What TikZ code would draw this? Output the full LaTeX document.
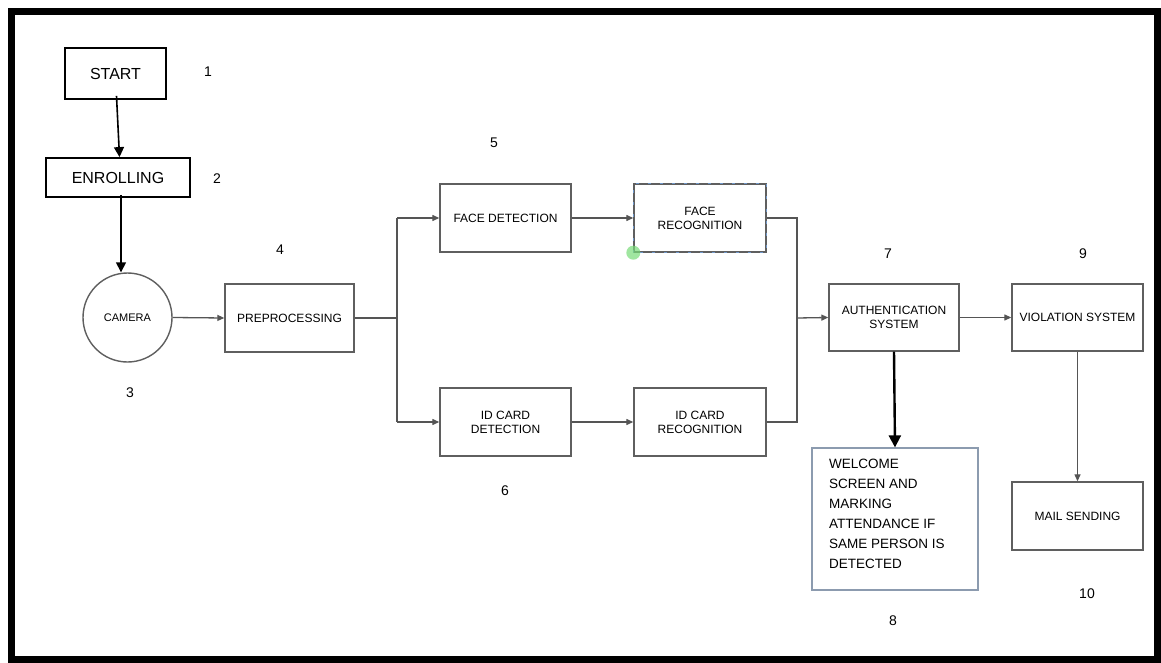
\documentclass[tikz,border=0pt]{standalone}
\usepackage{fontspec}
\setmainfont{Liberation Sans}
\usetikzlibrary{arrows.meta}
\definecolor{boxgray}{RGB}{95,95,95}
\definecolor{linegray}{RGB}{85,85,85}
\definecolor{selblue}{RGB}{110,150,200}
\definecolor{paleblue}{RGB}{140,155,175}
\definecolor{selgreen}{RGB}{120,220,120}
\tikzset{
  box/.style={draw=boxgray, line width=1.4pt, rectangle, inner sep=0pt, align=center,
    font=\fontsize{12}{14}\selectfont},
  darkbox/.style={draw=black, line width=1.8pt, rectangle, inner sep=0pt,
    font=\fontsize{16}{18}\selectfont},
  numlabel/.style={font=\fontsize{14}{16}\selectfont, inner sep=0pt},
  conn/.style={draw=linegray, line width=1.3pt, -{Triangle[length=7pt,width=6pt]}},
  plain/.style={draw=linegray, line width=1.3pt},
  blackarrow/.style={draw=black, line width=1.6pt, -{Triangle[length=10pt,width=10pt]}},
  thickarrow/.style={draw=black, line width=2.4pt, -{Triangle[length=12pt,width=12pt]}},
}
\begin{document}
\begin{tikzpicture}[x=1pt,y=-1pt]
\useasboundingbox (0,0) rectangle (1161,663);
\fill[white] (0,0) rectangle (1161,663);
\draw[black, line width=7pt] (11.5,11.5) rectangle (1157.5,659);

% nodes
\node[darkbox, minimum width=101pt, minimum height=51pt] (start) at (115.5,73.5) {START};
\node[darkbox, minimum width=144pt, minimum height=39pt] (enroll) at (118,177.5) {ENROLLING};
\node[circle, draw=boxgray, line width=1.4pt, minimum size=89pt, inner sep=0pt,
  font=\fontsize{11}{13}\selectfont] (camera) at (127.5,317.5) {CAMERA};
\node[box, minimum width=129pt, minimum height=68pt] (pre) at (289.5,318) {PREPROCESSING};
\node[box, minimum width=131pt, minimum height=68pt] (fdet) at (505.5,218) {FACE DETECTION};
\node[box, draw=boxgray, minimum width=132pt, minimum height=68pt] (frec) at (700,218) {FACE\\RECOGNITION};
\node[box, minimum width=131pt, minimum height=68pt] (idet) at (505.5,422) {ID CARD\\DETECTION};
\node[box, minimum width=132pt, minimum height=68pt] (irec) at (700,422) {ID CARD\\RECOGNITION};
\node[box, minimum width=130pt, minimum height=67pt] (auth) at (894,317.5) {AUTHENTICATION\\SYSTEM};
\node[box, minimum width=131pt, minimum height=67pt] (viol) at (1077.5,317.5) {VIOLATION SYSTEM};
\node[box, minimum width=131pt, minimum height=68pt] (mail) at (1077.5,516) {MAIL SENDING};
\node[draw=paleblue, line width=1.2pt, rectangle, minimum width=166pt, minimum height=142pt,
  inner sep=0pt] (welc) at (895,519) {};
\node[anchor=north west, align=left, inner sep=0pt,
  font=\fontsize{13.5}{20}\selectfont] (welctext) at (829,459)
  {WELCOME\\SCREEN AND\\MARKING\\ATTENDANCE IF\\SAME PERSON IS\\DETECTED};

% selection marks on FACE RECOGNITION
\draw[selblue, line width=0.8pt, dash pattern=on 3pt off 9pt] (frec.south west) rectangle (frec.north east);
\fill[selgreen, opacity=0.7] (frec.south west) circle (7pt);

% number labels
\node[numlabel] (n1) at (208,72) {1};
\node[numlabel] (n2) at (217,179) {2};
\node[numlabel] (n3) at (130,393) {3};
\node[numlabel] (n4) at (280,250) {4};
\node[numlabel] (n5) at (494,143) {5};
\node[numlabel] (n6) at (505,491) {6};
\node[numlabel] (n7) at (888,254) {7};
\node[numlabel] (n8) at (893,621) {8};
\node[numlabel] (n9) at (1083,254) {9};
\node[numlabel] (n10) at (1087,594) {10};

% junction coordinates
\coordinate (jl) at (397,318);
\coordinate (jlt) at (397,218);
\coordinate (jlb) at (397,422);
\coordinate (jr) at (797,318);
\coordinate (jrt) at (797,218);
\coordinate (jrb) at (797,422);

% connectors
\draw[blackarrow] ([xshift=1pt,yshift=4pt]start.south) -- ([xshift=4pt]start.south |- enroll.north);
\draw[blackarrow] ([xshift=3pt,yshift=3pt]enroll.south) -- ([xshift=3pt]enroll.south |- camera.north);
\draw[conn] (camera.east) -- (pre.west);
\draw[plain] (pre.east) -- (jl);
\draw[plain] (jlt) -- (jlb);
\draw[conn] (jlt) -- (fdet.west);
\draw[conn] (jlb) -- (idet.west);
\draw[conn] (fdet.east) -- (frec.west);
\draw[conn] (idet.east) -- (irec.west);
\draw[plain] (frec.east) -- (jrt) -- (jrb) -- (irec.east);
\draw[conn] (jr) -- (auth.west);
\draw[conn] (auth.east) -- (viol.west);
\draw[thickarrow] (auth.south) -- (welc.north);
\draw[conn] (viol.south) -- (mail.north);
\end{tikzpicture}
\end{document}
